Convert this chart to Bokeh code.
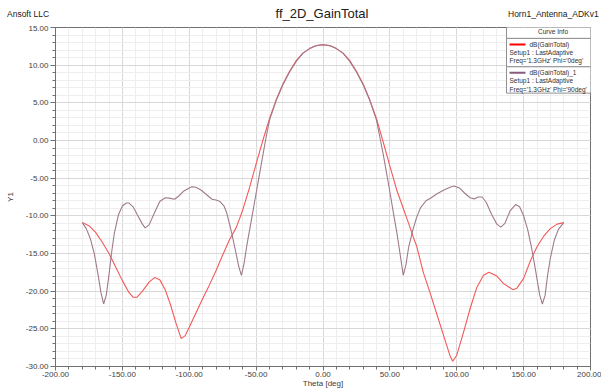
from bokeh.plotting import figure
from bokeh.models import Label, BoxAnnotation, PrintfTickFormatter, FixedTicker, Range1d, Div
from bokeh.layouts import column
from bokeh.embed import file_html
from bokeh.resources import INLINE

# ---- data ----
theta_phi0 = [-180, -175, -170, -165, -160, -155, -150, -145, -142, -139, -135, -130, -126, -122,
              -118, -114, -110, -106, -103, -100, -95, -90, -85, -80, -75, -70, -65, -62, -60,
              -55, -50, -45, -40, -35, -30, -25, -20, -15, -10, -5, 0, 5, 10, 15, 20, 25, 30,
              35, 40, 45, 50, 55, 60, 62, 65, 67, 70, 75, 80, 85, 90, 95, 97, 100, 105, 110,
              115, 120, 124, 130, 135, 142, 145, 150, 155, 160, 165, 170, 175, 180]
gain_phi0 = [-10.9, -11.3, -12.2, -13.5, -15.0, -16.8, -18.6, -20.2, -20.8, -20.8, -20.0, -18.8,
             -18.2, -18.5, -19.8, -21.8, -24.2, -26.3, -25.9, -24.8, -22.9, -21.0, -19.2, -17.3,
             -15.2, -13.2, -11.6, -10.2, -9.2, -6.3, -3.1, 0.0, 2.9, 5.4, 7.5, 9.2, 10.6, 11.6,
             12.2, 12.6, 12.7, 12.6, 12.2, 11.6, 10.6, 9.2, 7.5, 5.4, 2.9, -0.2, -3.4, -6.5,
             -9.0, -10.0, -11.5, -12.6, -14.0, -17.5, -20.2, -23.0, -25.8, -28.6, -29.3, -28.5,
             -25.5, -22.3, -19.5, -17.9, -17.5, -18.0, -19.0, -19.8, -19.6, -18.3, -16.0, -14.1,
             -12.7, -11.7, -11.1, -10.9]

theta_phi90 = [-180, -177, -174, -171, -168, -166, -164, -162, -160, -158, -156, -153, -150,
               -147, -145, -142, -139, -135, -133, -130, -126, -122, -118, -115, -111, -108,
               -104, -100, -98, -95, -91, -87, -83, -80, -77, -74, -72, -70, -68, -65, -63, -61,
               -59, -57, -55, -53, -50, -47, -45, -43, -40, -35, -30, -25, -20, -15, -10, -5, 0,
               5, 10, 15, 20, 25, 30, 35, 40, 43, 45, 47, 50, 53, 55, 57, 60, 62, 64, 67, 70, 73,
               77, 80, 85, 90, 95, 98, 102, 106, 110, 113, 116, 119, 122, 126, 130, 133, 136,
               140, 144, 147, 150, 153, 156, 159, 162, 164, 166, 168, 170, 173, 176, 180]
gain_phi90 = [-10.9, -11.7, -13.0, -15.0, -18.0, -20.2, -21.7, -20.5, -17.8, -14.8, -12.3, -9.9,
              -8.7, -8.3, -8.3, -8.8, -9.8, -11.1, -11.6, -11.2, -9.6, -8.1, -7.6, -7.65, -7.8,
              -7.4, -6.7, -6.3, -6.15, -6.2, -6.6, -7.2, -7.8, -7.9, -8.1, -8.7, -9.6, -11.0,
              -12.5, -15.0, -16.7, -17.9, -16.3, -14.0, -12.0, -10.0, -7.0, -4.0, -2.0, 0.0,
              2.7, 5.3, 7.4, 9.1, 10.5, 11.6, 12.2, 12.6, 12.7, 12.6, 12.2, 11.6, 10.5, 9.1,
              7.4, 5.3, 2.7, 0.0, -1.8, -3.8, -6.8, -10.0, -12.0, -14.3, -17.9, -16.5, -14.2,
              -12.0, -10.2, -8.9, -8.0, -7.7, -7.1, -6.6, -6.2, -6.05, -6.3, -7.0, -7.6, -7.75,
              -7.5, -7.5, -8.2, -9.8, -11.1, -11.5, -11.0, -9.3, -8.5, -8.8, -10.0, -11.8,
              -14.3, -17.3, -20.5, -21.7, -20.6, -17.8, -15.6, -13.2, -11.8, -10.9]

x_ticks = [-200, -150, -100, -50, 0, 50, 100, 150, 200]
x_minor = list(range(-200, 201, 10))
y_ticks = [-30, -25, -20, -15, -10, -5, 0, 5, 10, 15]
y_minor = list(range(-30, 16))

title_text = "ff_2D_GainTotal"
company_text = "Ansoft LLC"
design_text = "Horn1_Antenna_ADKv1"
x_label = "Theta [deg]"
y_label = "Y1"
series_names = ["dB(GainTotal)", "dB(GainTotal)_1"]
setup_text = "Setup1 : LastAdaptive"
freq_texts = ["Freq='1.3GHz' Phi='0deg'", "Freq='1.3GHz' Phi='90deg'"]
colors = ["#f45858", "#a07a8c"]
legend_colors = ["#ff0000", "#8a5c7c"]

FONT = "Liberation Sans"
W = 601
HEAD_H = 25
H = 365
BL, BR, BT, BB = 55, 11, 2, 22
FRAME_TOP_PAGE = HEAD_H + BT          # 27
PX_PER_UNIT = (H - BT - BB) / 45.0

# ---- header row (company, title, design name) ----
head_html = (
    f'<div style="position:relative;width:{W}px;height:{HEAD_H}px;overflow:hidden;'
    f'font-family:\'{FONT}\',Arial,sans-serif;color:#202020;">'
    f'<span style="position:absolute;left:7px;top:8px;font-size:8.5px;line-height:12px;'
    f'white-space:nowrap;">{company_text}</span>'
    f'<span style="position:absolute;left:222px;width:200px;top:6px;text-align:center;'
    f'font-size:13px;line-height:16px;white-space:nowrap;">{title_text}</span>'
    f'<span style="position:absolute;left:508px;top:8px;font-size:8.5px;line-height:12px;'
    f'white-space:nowrap;">{design_text}</span>'
    f'</div>'
)
header = Div(text=head_html, width=W, height=HEAD_H, margin=(0, 0, 0, 0))

p = figure(width=W, height=H, x_range=Range1d(-200, 200), y_range=Range1d(-30, 15),
           output_backend="svg", toolbar_location=None, title=None,
           min_border_left=BL, min_border_right=BR, min_border_top=BT, min_border_bottom=BB,
           margin=(0, 0, 0, 0))
p.background_fill_color = "white"
p.border_fill_color = "white"
p.outline_line_color = "#707070"
p.outline_line_width = 1

for ax, tk, mn in ((p.xaxis, x_ticks, x_minor), (p.yaxis, y_ticks, y_minor)):
    ax.ticker = FixedTicker(ticks=tk, minor_ticks=mn)
    ax.formatter = PrintfTickFormatter(format="%.2f")
    ax.major_label_text_font = FONT
    ax.major_label_text_font_size = "8px"
    ax.major_label_text_color = "#404040"
    ax.axis_line_color = "#707070"
    ax.major_tick_line_color = "#707070"
    ax.minor_tick_line_color = "#707070"
    ax.major_tick_in = 0
    ax.minor_tick_in = 0
    ax.axis_label_text_font = FONT
    ax.axis_label_text_font_size = "8px"
    ax.axis_label_text_font_style = "normal"
    ax.axis_label_text_color = "#404040"

p.xaxis.major_tick_out = 4
p.xaxis.minor_tick_out = 3
p.xaxis.major_label_standoff = 1
p.xaxis.axis_label = x_label
p.xaxis.axis_label_standoff = -1

p.yaxis.major_tick_out = 5
p.yaxis.minor_tick_out = 3
p.yaxis.major_label_standoff = 2
p.yaxis.axis_label = y_label
p.yaxis.axis_label_standoff = 8

for g in (p.xgrid, p.ygrid):
    g.grid_line_color = "#d8d8d8"
    g.minor_grid_line_color = "#eeeeee"

p.line(theta_phi0, gain_phi0, line_color=colors[0], line_width=1.1)
p.line(theta_phi90, gain_phi90, line_color=colors[1], line_width=1.1)


# legend placement helpers: x in px from the frame's left edge, y in data units
def fx(px):
    return px - BL


def fy(py):
    return 15.0 - (py - FRAME_TOP_PAGE) / PX_PER_UNIT


def lab(text, x, y, size="6.5px", align="left", color="#303030"):
    p.add_layout(Label(x=x, y=y, x_units="screen", y_units="data", text=text,
                       text_font=FONT, text_font_size=size, text_align=align,
                       text_baseline="middle", text_color=color))


def box(x0, y0, x1, y1, fill="white", line="#909090"):
    p.add_layout(BoxAnnotation(left=fx(x0), right=fx(x1), top=fy(y0), bottom=fy(y1),
                               left_units="screen", right_units="screen",
                               top_units="data", bottom_units="data",
                               fill_color=fill, fill_alpha=1.0,
                               line_color=line if line else fill, line_width=1,
                               line_alpha=1.0 if line else 0.0))


# legend ("Curve Info") block
box(506, 25, 599, 38)
box(506, 38, 599, 66.5)
box(506, 66.5, 599, 93)
lab("Curve Info", fx(552.5), fy(31.5), align="center")
for i, yy in enumerate((44, 72.5)):
    box(509, yy - 1, 525, yy + 1, fill=legend_colors[i], line=None)
    lab(series_names[i], fx(529), fy(yy))
    lab(setup_text, fx(509), fy(yy + 8.3))
    lab(freq_texts[i], fx(509), fy(yy + 16.5))

layout = column(header, p, spacing=0)
open("out.html", "w").write(file_html(layout, INLINE))
